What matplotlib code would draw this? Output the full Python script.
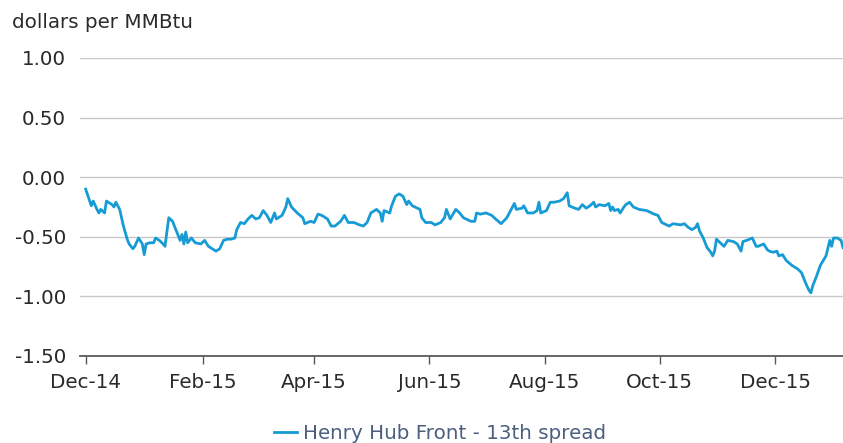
import matplotlib
matplotlib.use('Agg')
import matplotlib.pyplot as plt
import matplotlib.dates as mdates
import numpy as np
import pandas as pd

# Henry Hub front-month minus 13th-month spread
dates = [
    '2014-12-01', '2014-12-04', '2014-12-05', '2014-12-07', '2014-12-08', '2014-12-09',
    '2014-12-11', '2014-12-12', '2014-12-15', '2014-12-16', '2014-12-17', '2014-12-19',
    '2014-12-21', '2014-12-23', '2014-12-24', '2014-12-26', '2014-12-27', '2014-12-29',
    '2014-12-31', '2015-01-01', '2015-01-02', '2015-01-04', '2015-01-06', '2015-01-07',
    '2015-01-09', '2015-01-11', '2015-01-12', '2015-01-14', '2015-01-16', '2015-01-18',
    '2015-01-20', '2015-01-21', '2015-01-22', '2015-01-23', '2015-01-24', '2015-01-26',
    '2015-01-28', '2015-01-31', '2015-02-02', '2015-02-04', '2015-02-06', '2015-02-08',
    '2015-02-10', '2015-02-12', '2015-02-14', '2015-02-16', '2015-02-18', '2015-02-19',
    '2015-02-21', '2015-02-23', '2015-02-25', '2015-02-27', '2015-03-01', '2015-03-03',
    '2015-03-05', '2015-03-07', '2015-03-09', '2015-03-11', '2015-03-12', '2015-03-15',
    '2015-03-17', '2015-03-18', '2015-03-20', '2015-03-23', '2015-03-26', '2015-03-27',
    '2015-03-30', '2015-04-01', '2015-04-03', '2015-04-05', '2015-04-08', '2015-04-10',
    '2015-04-12', '2015-04-15', '2015-04-17', '2015-04-19', '2015-04-22', '2015-04-25',
    '2015-04-27', '2015-04-29', '2015-05-01', '2015-05-04', '2015-05-06', '2015-05-07',
    '2015-05-08', '2015-05-11', '2015-05-12', '2015-05-14', '2015-05-16', '2015-05-18',
    '2015-05-20', '2015-05-21', '2015-05-23', '2015-05-27', '2015-05-28', '2015-05-30',
    '2015-06-02', '2015-06-04', '2015-06-07', '2015-06-09', '2015-06-10', '2015-06-12',
    '2015-06-15', '2015-06-17', '2015-06-19', '2015-06-23', '2015-06-25', '2015-06-26',
    '2015-06-28', '2015-07-01', '2015-07-04', '2015-07-06', '2015-07-09', '2015-07-12',
    '2015-07-14', '2015-07-16', '2015-07-17', '2015-07-20', '2015-07-21', '2015-07-23',
    '2015-07-26', '2015-07-28', '2015-07-29', '2015-07-30', '2015-08-02', '2015-08-04',
    '2015-08-06', '2015-08-09', '2015-08-11', '2015-08-13', '2015-08-14', '2015-08-17',
    '2015-08-19', '2015-08-21', '2015-08-23', '2015-08-25', '2015-08-27', '2015-08-28',
    '2015-08-30', '2015-09-02', '2015-09-04', '2015-09-05', '2015-09-06', '2015-09-07',
    '2015-09-09', '2015-09-10', '2015-09-12', '2015-09-13', '2015-09-15', '2015-09-17',
    '2015-09-20', '2015-09-24', '2015-09-28', '2015-09-30', '2015-10-02', '2015-10-06',
    '2015-10-08', '2015-10-12', '2015-10-14', '2015-10-16', '2015-10-18', '2015-10-20',
    '2015-10-21', '2015-10-22', '2015-10-24', '2015-10-26', '2015-10-28', '2015-10-29',
    '2015-10-30', '2015-10-31', '2015-11-02', '2015-11-04', '2015-11-06', '2015-11-09',
    '2015-11-11', '2015-11-13', '2015-11-14', '2015-11-16', '2015-11-19', '2015-11-21',
    '2015-11-22', '2015-11-25', '2015-11-27', '2015-11-28', '2015-11-30', '2015-12-02',
    '2015-12-03', '2015-12-05', '2015-12-07', '2015-12-10', '2015-12-13', '2015-12-15',
    '2015-12-17', '2015-12-19', '2015-12-20', '2015-12-21', '2015-12-23', '2015-12-25',
    '2015-12-28', '2015-12-30', '2015-12-31', '2016-01-01', '2016-01-03', '2016-01-05',
    '2016-01-06',
]
spread = [
    -0.10, -0.24, -0.20, -0.27, -0.30, -0.27,
    -0.30, -0.20, -0.23, -0.25, -0.21, -0.27,
    -0.41, -0.52, -0.56, -0.60, -0.58, -0.51,
    -0.56, -0.65, -0.56, -0.55, -0.55, -0.51,
    -0.53, -0.56, -0.58, -0.34, -0.37, -0.45,
    -0.53, -0.48, -0.56, -0.46, -0.55, -0.51,
    -0.55, -0.56, -0.53, -0.58, -0.60, -0.62,
    -0.60, -0.53, -0.52, -0.52, -0.51, -0.44,
    -0.38, -0.39, -0.35, -0.32, -0.35, -0.34,
    -0.28, -0.32, -0.38, -0.30, -0.35, -0.32,
    -0.25, -0.18, -0.25, -0.30, -0.34, -0.39,
    -0.37, -0.38, -0.31, -0.32, -0.35, -0.41,
    -0.41, -0.37, -0.32, -0.38, -0.38, -0.40,
    -0.41, -0.38, -0.30, -0.27, -0.30, -0.37,
    -0.28, -0.30, -0.24, -0.16, -0.14, -0.16,
    -0.23, -0.20, -0.24, -0.27, -0.34, -0.38,
    -0.38, -0.40, -0.38, -0.34, -0.27, -0.35,
    -0.27, -0.30, -0.34, -0.37, -0.37, -0.30,
    -0.31, -0.30, -0.32, -0.35, -0.39, -0.34,
    -0.28, -0.22, -0.27, -0.26, -0.24, -0.30,
    -0.30, -0.28, -0.21, -0.30, -0.28, -0.21,
    -0.21, -0.20, -0.18, -0.13, -0.24, -0.26,
    -0.27, -0.23, -0.26, -0.24, -0.21, -0.25,
    -0.23, -0.24, -0.22, -0.28, -0.25, -0.28,
    -0.27, -0.30, -0.25, -0.23, -0.21, -0.25,
    -0.27, -0.28, -0.31, -0.32, -0.38, -0.41,
    -0.39, -0.40, -0.39, -0.42, -0.44, -0.42,
    -0.39, -0.45, -0.51, -0.59, -0.63, -0.66,
    -0.62, -0.52, -0.55, -0.58, -0.53, -0.54,
    -0.56, -0.62, -0.54, -0.53, -0.51, -0.58,
    -0.58, -0.56, -0.61, -0.62, -0.63, -0.62,
    -0.66, -0.65, -0.70, -0.74, -0.77, -0.80,
    -0.88, -0.95, -0.97, -0.91, -0.83, -0.74,
    -0.66, -0.53, -0.58, -0.51, -0.51, -0.53,
    -0.59,
]
tick_dates = ['2014-12-01', '2015-02-01', '2015-04-01', '2015-06-01',
              '2015-08-01', '2015-10-01', '2015-12-01']
y_ticks = [1.0, 0.5, 0.0, -0.5, -1.0, -1.5]

x = pd.to_datetime(dates)

plt.rcParams['font.family'] = 'DejaVu Sans'
fig = plt.figure(figsize=(8.43, 4.43), dpi=100)
ax = fig.add_axes([80 / 843, 87 / 443, 763 / 843, 298 / 443])

ax.plot(x, spread, color='#169bd5', linewidth=2.0, label='Henry Hub Front - 13th spread')

ax.set_ylim(-1.5, 1.0)
ax.set_xlim(pd.Timestamp('2014-11-28'), pd.Timestamp('2016-01-06'))
ax.set_yticks(y_ticks)
ax.set_yticklabels(['%.2f' % v for v in y_ticks])
ax.set_xticks(pd.to_datetime(tick_dates))
ax.xaxis.set_major_formatter(mdates.DateFormatter('%b-%y'))

ax.grid(axis='y', color='#c8c8c8', linewidth=1.0)
ax.set_axisbelow(True)
for side in ['top', 'right', 'left']:
    ax.spines[side].set_visible(False)
ax.spines['bottom'].set_color('#595959')
ax.spines['bottom'].set_linewidth(1.3)

ax.tick_params(axis='y', length=0, pad=10, labelsize=14.3, labelcolor='#2a2a2a')
ax.tick_params(axis='x', length=6, width=1.0, color='#595959', pad=6,
               labelsize=14.3, labelcolor='#2a2a2a')

fig.text(12 / 843, 1 - 13 / 443, 'dollars per MMBtu', ha='left', va='top',
         fontsize=14.3, color='#2a2a2a')

leg = fig.legend(loc='center', bbox_to_anchor=(0.522, 0.022), frameon=False,
                 fontsize=14.3, handlelength=1.2, handletextpad=0.3)
for t in leg.get_texts():
    t.set_color('#4a5f7e')

fig.savefig('out.png', dpi=100)
